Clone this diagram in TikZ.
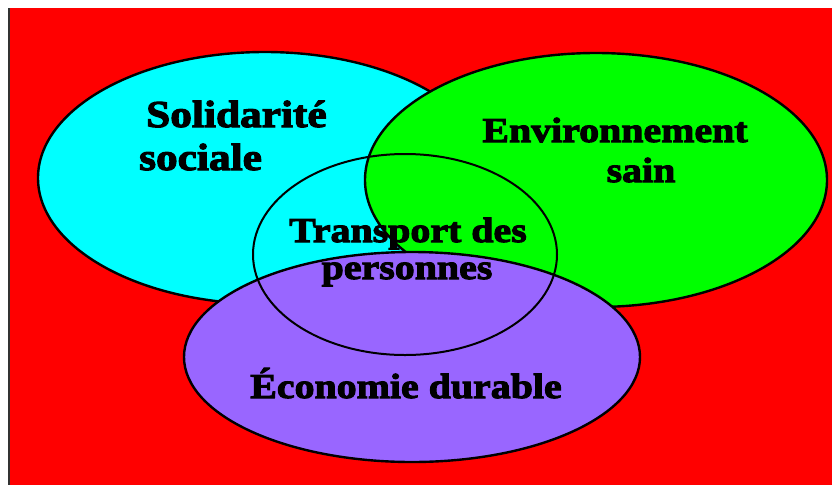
\documentclass[tikz,border=0pt]{standalone}
\usepackage{fontspec}
\setmainfont{Liberation Serif}
\newfontfamily\fat{Liberation Serif}[BoldFeatures={FakeStretch=1.14,FakeBold=3}]
\usetikzlibrary{shapes.geometric}
\definecolor{bgred}{HTML}{FF0000}
\definecolor{socc}{HTML}{00FFFF}
\definecolor{envc}{HTML}{00FF00}
\definecolor{ecoc}{HTML}{9966FF}
\tikzset{
  blob/.style={ellipse, draw=black, line width=2.4pt, inner sep=0pt},
  ring/.style={ellipse, draw=black, line width=2pt, inner sep=0pt},
  lbl/.style={inner sep=0pt, font=\fat\bfseries\fontsize{35}{40}\selectfont},
  biglbl/.style={inner sep=0pt, font=\fat\bfseries\fontsize{38}{42}\selectfont}
}
\begin{document}
\begin{tikzpicture}[x=1pt,y=-1pt]
\useasboundingbox (0,0) rectangle (832,485);
\fill[bgred] (9,8) rectangle (832,485);
\draw[line width=1.2pt, black!80] (9,8) -- (9,485);
\node[blob, fill=socc, minimum width=454pt, minimum height=252pt] (soc) at (265,178) {};
\node[blob, fill=envc, minimum width=462pt, minimum height=254pt] (env) at (596,180) {};
\node[blob, fill=ecoc, minimum width=456pt, minimum height=210pt] (eco) at (412,357) {};
\node[ring, minimum width=304pt, minimum height=201pt] (tra) at (405,254.5) {};
\node[biglbl, anchor=base west] (s1) at (146,127) {Solidarité};
\node[biglbl, anchor=base west] (s2) at (139,170) {sociale};
\node[lbl, anchor=base] (e1) at (615,142) {Environnement};
\node[lbl, anchor=base] (e2) at (641,182) {sain};
\node[lbl, anchor=base] (t1) at (408,242) {Transport des};
\node[lbl, anchor=base] (t2) at (407,279) {personnes};
\node[lbl, anchor=base] (d1) at (406,398) {Économie durable};
\end{tikzpicture}
\end{document}
